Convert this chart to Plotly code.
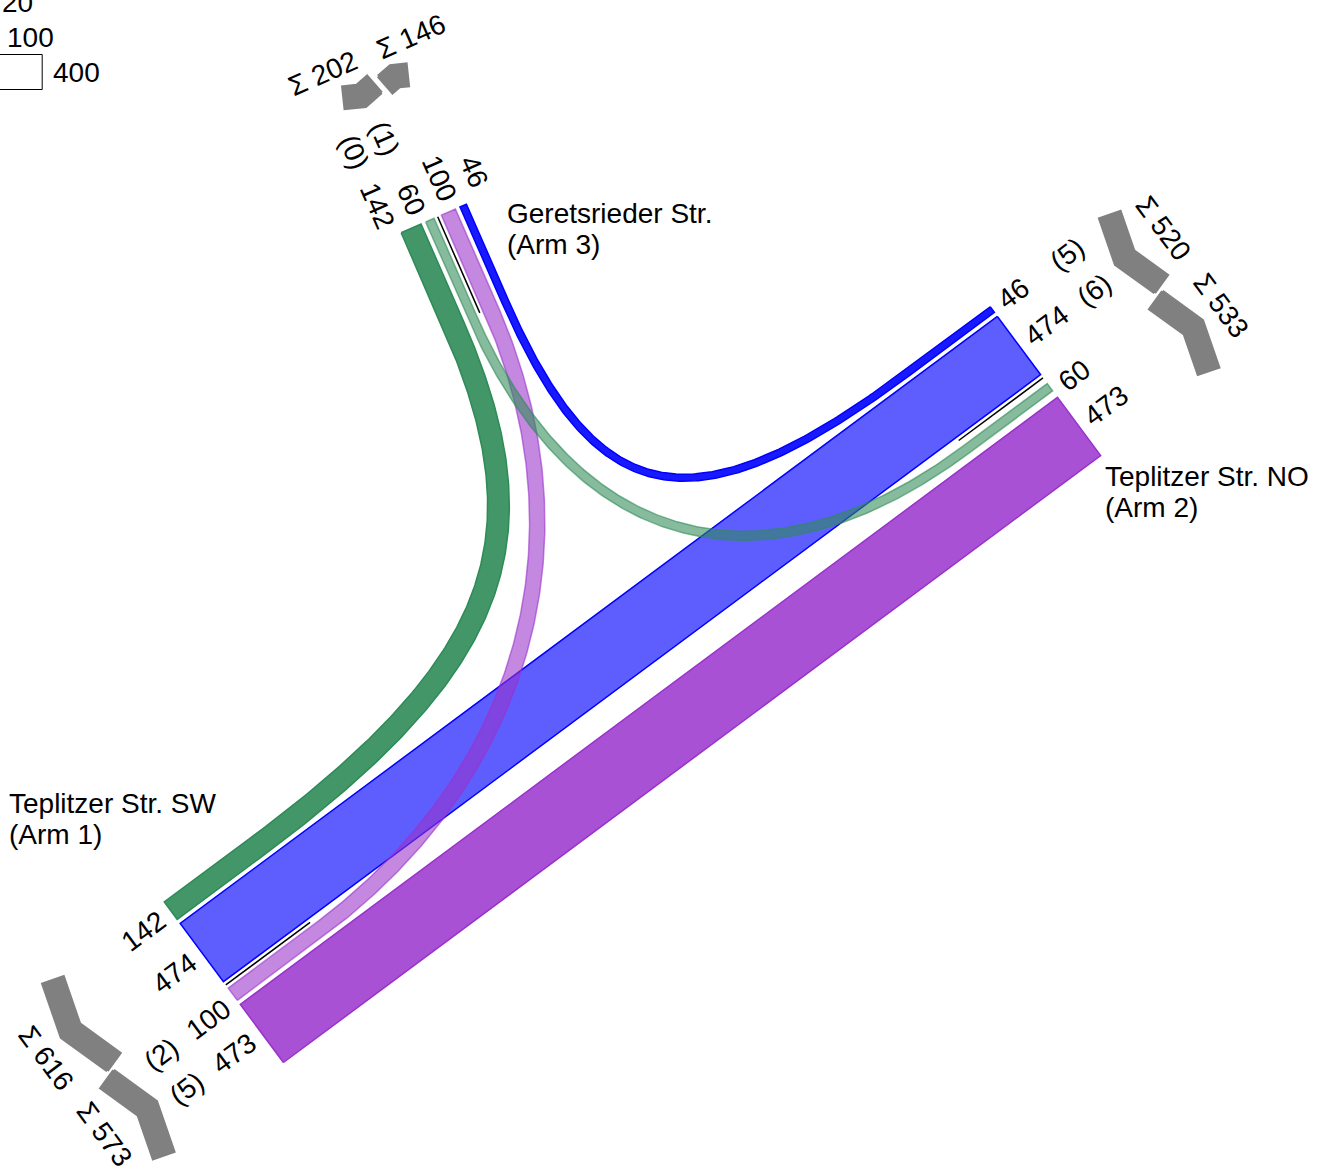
import numpy as np
import plotly.graph_objects as go

# ------------------------------------------------------------------ data
arm_labels = ["Teplitzer Str. SW", "Teplitzer Str. NO", "Geretsrieder Str."]
arm_numbers = ["(Arm 1)", "(Arm 2)", "(Arm 3)"]
flow_origin = [3, 2, 1, 1, 3, 2]
flow_destination = [1, 1, 3, 2, 2, 3]
flow_volume = [142, 474, 100, 473, 60, 46]
flow_heavy = [0, 6, 2, 5, 1, 5]
legend_volumes = [20, 100, 400]

# ------------------------------------------------------------------ geometry / style
W, H = 1331, 1169
SCALE = 0.153          # px per vehicle
GAP_LINE = 4.0
GAP = 5.0
STRAIGHT = 105.0       # straight run before a turning curve starts
ANG = np.radians(36.6)
U = np.array([np.cos(ANG), -np.sin(ANG)])
D3 = np.array([0.401, 0.916]); D3 = D3 / np.linalg.norm(D3)
ARM_END = {1: np.array([225.8, 984.9]), 2: np.array([1043.0, 377.9]), 3: np.array([437.7, 216.7])}
ARM_IN = {1: U, 2: -U, 3: D3}
OPPOSITE = {1: 2, 2: 1}
ARM_RGB = {1: (153, 50, 204), 2: (0, 0, 255), 3: (46, 139, 87)}
STRAIGHT_ALPHA = {1: 0.85, 2: 0.63, 3: 0.9}
TURN_ALPHA = 0.9
LIGHT_ALPHA = 0.58
FONT = "Liberation Sans, Arial, sans-serif"
FS = 28
DIGIT_W = 0.556 * FS
PAREN_W = 0.333 * FS
GREY = "rgb(128,128,128)"


def right(d):
    return np.array([-d[1], d[0]])


def rot(v, deg):
    a = np.radians(deg)
    c, s = np.cos(a), np.sin(a)
    return np.array([v[0] * c - v[1] * s, v[0] * s + v[1] * c])


def ang(d):
    a = np.degrees(np.arctan2(d[1], d[0]))
    while a > 90:
        a -= 180
    while a <= -90:
        a += 180
    return a


def turn(i):
    a = ARM_IN[flow_origin[i]]
    b = -ARM_IN[flow_destination[i]]
    return a[0] * b[1] - a[1] * b[0]


flows = list(range(len(flow_volume)))
side_lists = {}
for arm in (1, 2, 3):
    side_lists[(arm, 1)] = sorted([i for i in flows if flow_origin[i] == arm], key=turn)
    side_lists[(arm, -1)] = sorted([i for i in flows if flow_destination[i] == arm], key=turn)

band_off = {}
for (arm, side), lst in side_lists.items():
    pos = GAP_LINE
    for k, i in enumerate(lst):
        w = flow_volume[i] * SCALE
        slot = w
        if k < len(lst) - 1 and arm in OPPOSITE:
            other = side_lists[(OPPOSITE[arm], -side)]
            if k < len(other):
                slot = max(slot, flow_volume[other[k]] * SCALE)
        band_off[(arm, i)] = (side * (pos + slot / 2), w)
        pos += slot + GAP

fig = go.Figure()


def add_poly(pts, fill, line, lw):
    pts = np.asarray(pts)
    xs = list(pts[:, 0]) + [pts[0, 0]]
    ys = list(pts[:, 1]) + [pts[0, 1]]
    fig.add_trace(go.Scatter(x=xs, y=ys, mode="lines", fill="toself", fillcolor=fill,
                             line=dict(color=line, width=lw), hoverinfo="skip", showlegend=False))


def band_polygon(i):
    o, d = flow_origin[i], flow_destination[i]
    co, w = band_off[(o, i)]
    cd, _ = band_off[(d, i)]
    dir0, dir3 = ARM_IN[o], ARM_IN[d]
    P0 = ARM_END[o] + right(dir0) * co
    P3 = ARM_END[d] + right(dir3) * cd
    c = turn(i)
    if abs(c) < 0.2:
        B = np.vstack([P0, P3])
        T = np.tile(P3 - P0, (2, 1))
    else:
        Q0 = P0 + dir0 * STRAIGHT
        Q3 = P3 + dir3 * STRAIGHT
        A = np.column_stack([dir0, -dir3])
        ts = np.linalg.solve(A, Q3 - Q0)
        f = 0.76 if c > 0 else 0.62
        Q1 = Q0 + dir0 * ts[0] * f
        Q2 = Q3 + dir3 * ts[1] * f
        t = np.linspace(0, 1, 200)[:, None]
        Bc = (1 - t) ** 3 * Q0 + 3 * (1 - t) ** 2 * t * Q1 + 3 * (1 - t) * t ** 2 * Q2 + t ** 3 * Q3
        Tc = 3 * (1 - t) ** 2 * (Q1 - Q0) + 6 * (1 - t) * t * (Q2 - Q1) + 3 * t ** 2 * (Q3 - Q2)
        B = np.vstack([P0, Bc, P3])
        T = np.vstack([dir0, Tc, -dir3])
    T = T / np.linalg.norm(T, axis=1, keepdims=True)
    Nn = np.column_stack([-T[:, 1], T[:, 0]])
    e1 = B + Nn * w / 2
    e2 = B - Nn * w / 2
    return np.vstack([e1, e2[::-1]])


order = sorted(flows, key=lambda i: (0 if abs(turn(i)) < 0.2 else (1 if turn(i) > 0 else 2)))
for i in order:
    r, g, b = ARM_RGB[flow_origin[i]]
    c = turn(i)
    if c < -0.2:
        fill = f"rgba({r},{g},{b},{LIGHT_ALPHA})"
        line = f"rgba({r},{g},{b},0.6)"
    elif c > 0.2:
        fill = f"rgba({r},{g},{b},{TURN_ALPHA})"
        line = f"rgb({r},{g},{b})"
    else:
        fill = f"rgba({r},{g},{b},{STRAIGHT_ALPHA[flow_origin[i]]})"
        line = f"rgb({r},{g},{b})"
    add_poly(band_polygon(i), fill, line, 1.5)

# divider lines
for arm in (1, 2, 3):
    p0 = ARM_END[arm]
    p1 = p0 + ARM_IN[arm] * 105
    fig.add_trace(go.Scatter(x=[p0[0], p1[0]], y=[p0[1], p1[1]], mode="lines",
                             line=dict(color="black", width=1.5), hoverinfo="skip", showlegend=False))

annotations = []


def add_text(p, text, angle=0.0, xanchor="center"):
    annotations.append(dict(x=float(p[0]), y=float(p[1]), xref="x", yref="y", text=text,
                            showarrow=False, textangle=float(angle), xanchor=xanchor, yanchor="middle",
                            font=dict(family=FONT, size=FS, color="black")))


for (arm, side), lst in side_lists.items():
    din = ARM_IN[arm]
    rv = right(din)
    prev = None
    for i in lst:
        c, w = band_off[(arm, i)]
        a = abs(c)
        pos = max(a, 17.0) if prev is None else max(a, prev + 34.0)
        prev = pos
        txt = str(flow_volume[i])
        tw = len(txt) * DIGIT_W
        p = ARM_END[arm] - din * (11 + tw / 2) + rv * side * pos
        add_text(p, txt, ang(din))
        if side == 1:
            htxt = f"({flow_heavy[i]})"
            hw = 2 * PAREN_W + len(str(flow_heavy[i])) * DIGIT_W
            p = ARM_END[arm] - din * (76 + hw / 2) + rv * side * pos
            add_text(p, htxt, ang(din))
    total = sum(flow_volume[i] for i in lst)
    L = 0.0865 * total
    e = din if side == 1 else -din
    M = ARM_END[arm] - din * 144 + rv * side * (0.954 * L + 5)
    Bc = M + e * 0.15 * L
    half = 11.0
    tip = Bc + e * half / np.sin(np.radians(72.5))
    inner = Bc - e * half / np.sin(np.radians(72.5))
    ends = []
    for v in (rot(-e, 72.5), rot(-e, -72.5)):
        pr = right(v)
        if np.dot(pr, e) < 0:
            pr = -pr
        endc = Bc + v * L
        ends.append((endc + pr * half, endc - pr * half))
    poly = [ends[0][0], tip, ends[1][0], ends[1][1], inner, ends[0][1]]
    add_poly(poly, GREY, GREY, 3)
    ps = ARM_END[arm] - din * (172 + 0.3 * L) + rv * side * 48
    add_text(ps, f"Σ {total}", ang(rv))

name_pos = {1: (7, 803), 2: (1103, 476), 3: (505, 213)}
for k, arm in enumerate((1, 2, 3)):
    x, y = name_pos[arm]
    add_text((x, y), arm_labels[k], 0, "left")
    add_text((x, y + 31), arm_numbers[k], 0, "left")

# scale legend
LX0 = -19
for k, v in enumerate(legend_volumes):
    yc = 2 + 35 * k
    x1 = LX0 + v * SCALE
    fig.add_trace(go.Scatter(x=[LX0, x1, x1, LX0, LX0], y=[yc - 17.5, yc - 17.5, yc + 17.5, yc + 17.5, yc - 17.5],
                             mode="lines", line=dict(color="black", width=1), hoverinfo="skip", showlegend=False))
    add_text((max(x1 + 9, 0.2), yc), str(v), 0, "left")

fig.update_layout(
    width=W, height=H, margin=dict(l=0, r=0, t=0, b=0),
    paper_bgcolor="white", plot_bgcolor="white",
    xaxis=dict(range=[0, W], visible=False, fixedrange=True),
    yaxis=dict(range=[H, 0], visible=False, fixedrange=True),
    showlegend=False, annotations=annotations,
)
fig.write_html("out.html", config={"displayModeBar": False},
               post_script="document.body.style.margin='0';")
